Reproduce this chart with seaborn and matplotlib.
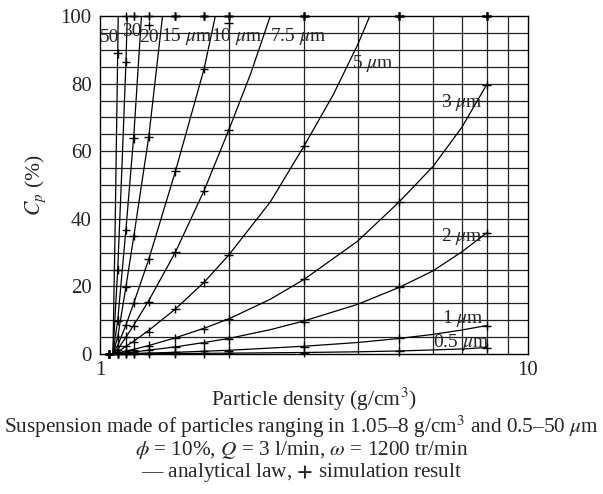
import numpy as np
import pandas as pd
import matplotlib
matplotlib.use("Agg")
import matplotlib.pyplot as plt
import seaborn as sns

# ---------------- data ----------------
sizes = ["50", "30", "20", "15", "10", "7.5", "5", "3", "2", "1", "0.5"]

# simulation densities (g/cm3)
rho_sim = [1.05, 1.1, 1.15, 1.2, 1.3, 1.5, 1.75, 2, 3, 5, 8]
sim_50 = [0, 89, 100, 100, 100, 100, 100, 100, 100, 100, 100]
sim_30 = [0, 24.9, 86.5, 100, 100, 100, 100, 100, 100, 100, 100]
sim_20 = [0, 9.8, 36.7, 63.8, 97.3, 100, 100, 100, 100, 100, 100]
sim_15 = [0, 4.9, 19.9, 34.9, 64.3, 100, 100, 100, 100, 100, 100]
sim_10 = [0, 2.3, 8.6, 15.2, 28.0, 54.0, 84.3, 97.8, 100, 100, 100]
sim_7_5 = [0, 1.3, 5.1, 8.4, 15.5, 30.1, 48.3, 66.3, 100, 100, 100]
sim_5 = [0, 0.6, 2.5, 3.6, 6.6, 13.3, 21.2, 29.3, 61.6, 100, 100]
sim_3 = [0, 0.2, 0.8, 1.2, 2.5, 4.7, 7.4, 10.3, 22.1, 45.0, 79.6]
sim_2 = [0, 0.1, 0.3, 0.6, 1.1, 2.0, 3.2, 4.4, 9.6, 19.7, 35.8]
sim_1 = [0, 0, 0.1, 0.1, 0.3, 0.5, 0.8, 1.0, 2.2, 4.6, 8.4]
sim_0_5 = [0, 0, 0, 0, 0.1, 0.1, 0.2, 0.2, 0.4, 0.8, 1.9]

# analytical law
law_rho_50 = [1.072, 1.085, 1.1, 1.103]
law_cp_50 = [0, 38, 89, 100]
law_rho_30 = [1.072, 1.1, 1.125, 1.15, 1.158]
law_cp_30 = [0, 25, 55, 86.5, 100]
law_rho_20 = [1.072, 1.1, 1.15, 1.2, 1.25]
law_cp_20 = [0, 10, 37, 65, 100]
law_rho_15 = [1.072, 1.1, 1.15, 1.2, 1.3, 1.4]
law_cp_15 = [0, 5, 20, 35, 64.3, 100]
law_rho_10 = [1.072, 1.1, 1.15, 1.2, 1.3, 1.5, 1.75, 1.86]
law_cp_10 = [0, 2.5, 8.6, 15.2, 28, 54, 84.3, 100]
law_rho_7_5 = [1.072, 1.1, 1.15, 1.2, 1.3, 1.5, 1.75, 2, 2.25, 2.5]
law_cp_7_5 = [0, 1.4, 5, 8.6, 15.8, 30.1, 48.3, 66.3, 83, 100]
law_rho_5 = [1.072, 1.1, 1.15, 1.2, 1.3, 1.5, 1.75, 2, 2.5, 3, 3.5, 4, 4.27]
law_cp_5 = [0, 0.6, 2.3, 3.8, 7, 13.3, 21.2, 29.3, 45, 61.6, 76.5, 91.5, 100]
law_rho_3 = [1.072, 1.2, 1.3, 1.5, 1.75, 2, 2.5, 3, 4, 5, 6, 7, 8]
law_cp_3 = [0, 1.4, 2.5, 4.8, 7.6, 10.4, 16.2, 22.1, 33.4, 45, 55.5, 67, 79.6]
law_rho_2 = [1.072, 1.2, 1.5, 1.75, 2, 2.5, 3, 4, 5, 6, 7, 8]
law_cp_2 = [0, 0.6, 2.1, 3.4, 4.6, 7.2, 9.8, 14.7, 19.7, 24.6, 30.2, 35.8]
law_rho_1 = [1.072, 1.5, 2, 3, 4, 5, 6, 7, 8]
law_cp_1 = [0, 0.5, 1.1, 2.3, 3.4, 4.6, 5.8, 7.1, 8.4]
law_rho_0_5 = [1.072, 2, 3, 4, 5, 6, 7, 8]
law_cp_0_5 = [0, 0.25, 0.45, 0.65, 0.9, 1.2, 1.5, 1.9]

label_text = ["50", "30", "20", "15 $\\mu$m", "10 $\\mu$m", "7.5 $\\mu$m",
              "5 $\\mu$m", "3 $\\mu$m", "2 $\\mu$m", "1 $\\mu$m", "0.5 $\\mu$m"]
label_rho = [1.0, 1.128, 1.235, 1.39, 1.82, 2.5, 3.88, 6.25, 6.25, 6.3, 6.0]
label_cp = [93.5, 95.5, 93.5, 94, 94, 94, 86, 74.5, 34.8, 10.5, 3.4]

sims = [sim_50, sim_30, sim_20, sim_15, sim_10, sim_7_5, sim_5, sim_3, sim_2, sim_1, sim_0_5]
laws = [(law_rho_50, law_cp_50), (law_rho_30, law_cp_30), (law_rho_20, law_cp_20),
        (law_rho_15, law_cp_15), (law_rho_10, law_cp_10), (law_rho_7_5, law_cp_7_5),
        (law_rho_5, law_cp_5), (law_rho_3, law_cp_3), (law_rho_2, law_cp_2),
        (law_rho_1, law_cp_1), (law_rho_0_5, law_cp_0_5)]

sim_df = pd.DataFrame([(s, r, c) for s, vals in zip(sizes, sims) for r, c in zip(rho_sim, vals)],
                      columns=["size", "rho", "cp"])
law_df = pd.DataFrame([(s, r, c) for s, (rr, cc) in zip(sizes, laws) for r, c in zip(rr, cc)],
                      columns=["size", "rho", "cp"])

# ---------------- style ----------------
sns.set_style("white")
plt.rcParams["font.family"] = ["Liberation Serif", "DejaVu Serif"]
plt.rcParams["mathtext.fontset"] = "stix"

FS = 15

fig = plt.figure(figsize=(6.03, 4.94), dpi=100)
ax = fig.add_axes([100 / 603, 1 - 354 / 494, 428 / 603, 338 / 494])
ax.set_xscale("log")

ax.set_xlim(1, 10)
ax.set_ylim(0, 100)
for yv in np.arange(5, 100, 5):
    ax.axhline(yv, color="#222222", lw=0.9, zorder=1)
for xv in range(2, 10):
    ax.axvline(xv, color="#222222", lw=0.9, zorder=1)

pal = {s: "black" for s in sizes}
sns.lineplot(data=law_df, x="rho", y="cp", hue="size", units="size", estimator=None,
             sort=False, palette=pal, legend=False, lw=0.9, ax=ax, zorder=3)
sns.scatterplot(data=sim_df, x="rho", y="cp", hue="size", palette=pal, marker="+",
                s=40, linewidth=1.0, legend=False, ax=ax, zorder=4, clip_on=False)

for t, r, c in zip(label_text, label_rho, label_cp):
    ax.text(r, c, t, fontsize=14, ha="left", va="center", zorder=5)

ax.set_xticks([1, 10])
ax.set_xticklabels(["1", "10"])
ax.xaxis.set_minor_locator(matplotlib.ticker.NullLocator())
ax.set_yticks([0, 20, 40, 60, 80, 100])
ax.tick_params(axis="both", labelsize=FS, length=0)
ax.tick_params(axis="x", pad=5)
ax.tick_params(axis="y", pad=6)
for sp in ax.spines.values():
    sp.set_color("black")
    sp.set_linewidth(1.0)

ax.set_xlabel("Particle density (g/cm$^3$)", fontsize=15.5, labelpad=4)
ax.set_ylabel("$C_p$ (%)", fontsize=15.5, labelpad=9)

fig.text(0.5, 1 - 427 / 494,
         "Suspension made of particles ranging in 1.05\u20138 g/cm$^3$ and 0.5\u201350 $\\mu$m",
         ha="center", va="center", fontsize=15.3)
fig.text(0.5, 1 - 450 / 494,
         "$\\phi$ = 10%, $Q$ = 3 l/min, $\\omega$ = 1200 tr/min",
         ha="center", va="center", fontsize=15.3)
fig.text(0.5, 1 - 472 / 494,
         "\u2014 analytical law, $\\mathbf{+}$ simulation result",
         ha="center", va="center", fontsize=15.3)

fig.savefig("out.png", dpi=100)
